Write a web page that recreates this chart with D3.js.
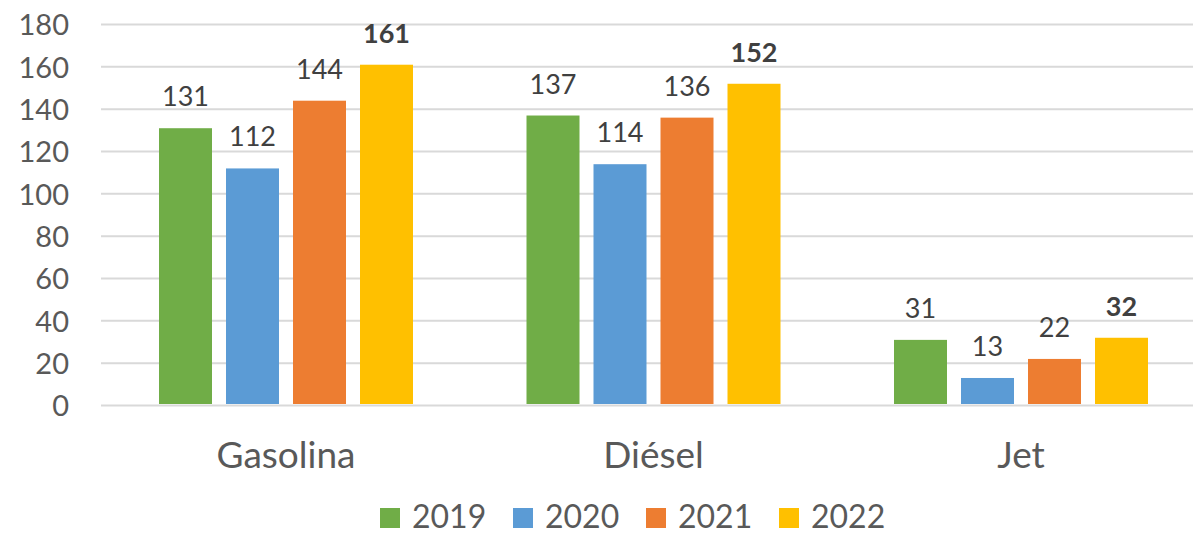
<!DOCTYPE html>
<html>
<head>
<meta charset="utf-8">
<script src="https://cdn.jsdelivr.net/npm/d3@7"></script>
<style>
  body { margin: 0; background: #fff; }
  text { font-family: "Lato", "Open Sans", sans-serif; }
</style>
</head>
<body>
<div id="chart"></div>
<script>
var categories = ["Gasolina", "Diésel", "Jet"];
var years = ["2019", "2020", "2021", "2022"];
var v2019 = [131, 137, 31];
var v2020 = [112, 114, 13];
var v2021 = [144, 136, 22];
var v2022 = [161, 152, 32];
var yTicks = [0, 20, 40, 60, 80, 100, 120, 140, 160, 180];

var colors = ["#70ad47", "#5b9bd5", "#ed7d31", "#ffc000"];
var series = [v2019, v2020, v2021, v2022];

var svgWidth = 1193;
var svgHeight = 534;

var svg = d3.select("#chart")
  .append("svg")
  .attr("width", svgWidth)
  .attr("height", svgHeight);

// scales
var x0 = d3.scaleBand()
  .domain(categories)
  .range([102.25, 1204.75]);

var x1 = d3.scaleBand()
  .domain(years)
  .range([-134, 134])
  .paddingInner(0.209)
  .paddingOuter(0.1045);

var y = d3.scaleLinear()
  .domain([0, 180])
  .range([405.5, 24.5]);

// gridlines
svg.append("g")
  .selectAll("line")
  .data(yTicks)
  .join("line")
  .attr("x1", 101)
  .attr("x2", svgWidth)
  .attr("y1", d => y(d))
  .attr("y2", d => y(d))
  .attr("stroke", "#d9d9d9")
  .attr("stroke-width", 2);

// y axis labels
var leftAxis = d3.axisLeft(y).tickValues(yTicks).tickSize(0).tickPadding(0);
var yAxis = svg.append("g")
  .attr("transform", "translate(69, 0)")
  .call(leftAxis);
yAxis.select(".domain").remove();
yAxis.selectAll("text")
  .attr("font-family", "Lato, 'Open Sans', sans-serif")
  .attr("font-size", 29)
  .attr("fill", "#595959")
  .attr("dy", "0.36em");

// bars
var rows = [];
categories.forEach((c, i) => {
  years.forEach((yr, j) => {
    rows.push({ cat: c, year: yr, value: series[j][i], color: colors[j], bold: j === 3 });
  });
});

svg.append("g")
  .selectAll("rect")
  .data(rows)
  .join("rect")
  .attr("x", d => x0(d.cat) + x0.bandwidth() / 2 + x1(d.year))
  .attr("y", d => y(d.value))
  .attr("width", x1.bandwidth())
  .attr("height", d => y(0) - 1.5 - y(d.value))
  .attr("fill", d => d.color);

// value labels
svg.append("g")
  .selectAll("text")
  .data(rows)
  .join("text")
  .attr("x", d => x0(d.cat) + x0.bandwidth() / 2 + x1(d.year) + x1.bandwidth() / 2)
  .attr("y", d => y(d.value) - 22)
  .attr("text-anchor", "middle")
  .attr("font-size", 27)
  .attr("font-weight", d => d.bold ? "bold" : "normal")
  .attr("fill", "#404040")
  .text(d => d.value);

// category labels
svg.append("g")
  .selectAll("text")
  .data(categories)
  .join("text")
  .attr("x", d => x0(d) + x0.bandwidth() / 2)
  .attr("y", 468)
  .attr("text-anchor", "middle")
  .attr("font-size", 37)
  .attr("fill", "#595959")
  .text(d => d);

// legend
var legend = svg.append("g")
  .selectAll("g")
  .data(years)
  .join("g")
  .attr("transform", (d, i) => `translate(${380 + i * 133}, 508)`);

legend.append("rect")
  .attr("width", 20)
  .attr("height", 20)
  .attr("fill", (d, i) => colors[i]);

legend.append("text")
  .attr("x", 32)
  .attr("y", 20)
  .attr("font-size", 32)
  .attr("fill", "#595959")
  .text(d => d);
</script>
</body>
</html>
